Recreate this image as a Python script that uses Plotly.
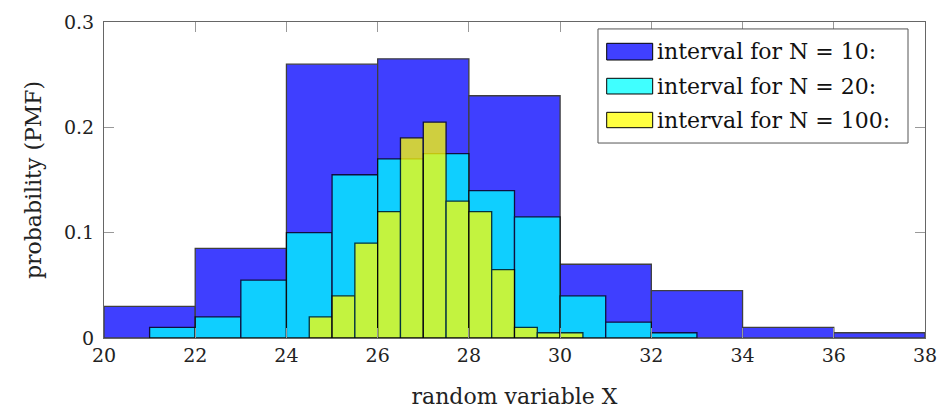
import plotly.graph_objects as go

# N = 10 intervals (bin width 2)
edges_n10 = [20, 22, 24, 26, 28, 30, 32, 34, 36]
pmf_n10 = [0.03, 0.085, 0.26, 0.265, 0.23, 0.07, 0.045, 0.01, 0.005]
width_n10 = 2.0

# N = 20 intervals (bin width 1)
edges_n20 = [21, 22, 23, 24, 25, 26, 27, 28, 29, 30, 31, 32]
pmf_n20 = [0.01, 0.02, 0.055, 0.10, 0.155, 0.17, 0.175, 0.14, 0.115, 0.04, 0.015, 0.005]
width_n20 = 1.0

# N = 100 intervals (bin width 0.5)
edges_n100 = [24.5, 25, 25.5, 26, 26.5, 27, 27.5, 28, 28.5, 29, 29.5, 30]
pmf_n100 = [0.02, 0.04, 0.09, 0.12, 0.19, 0.205, 0.13, 0.12, 0.065, 0.01, 0.005, 0.005]
width_n100 = 0.5

series_names = ["interval for N = 10:", "interval for N = 20:", "interval for N = 100:"]
series_colors = ["rgb(0,0,255)", "rgb(0,255,255)", "rgb(255,255,0)"]
x_ticks = [20, 22, 24, 26, 28, 30, 32, 34, 36, 38]
y_ticks = [0, 0.1, 0.2, 0.3]
y_tick_labels = ["0", "0.1", "0.2", "0.3"]

FONT = "DejaVu Serif"
ALPHA = 0.75

fig = go.Figure()

def add_hist(edges, vals, w, color, name):
    fig.add_trace(go.Bar(
        x=[e + w / 2 for e in edges], y=vals, width=[w] * len(edges),
        marker=dict(color=color, line=dict(color="black", width=1.3)),
        opacity=ALPHA, name=name, showlegend=False,
    ))

add_hist(edges_n10, pmf_n10, width_n10, series_colors[0], series_names[0])
add_hist(edges_n20, pmf_n20, width_n20, series_colors[1], series_names[1])
add_hist(edges_n100, pmf_n100, width_n100, series_colors[2], series_names[2])

axis_common = dict(
    showgrid=False, zeroline=False, showline=True, linecolor="#666666", linewidth=1.2,
    mirror="ticks", ticks="inside", ticklen=10, tickcolor="#999999", tickwidth=1.2,
    tickfont=dict(family=FONT, size=19, color="#222222"), automargin=False,
)

# Legend drawn as a framed box with wide swatches (paper coordinates)
shapes = [dict(type="rect", xref="paper", yref="paper", x0=0.6017, x1=0.9793, y0=0.617, y1=0.978,
               line=dict(color="#555555", width=1), fillcolor="white", layer="above")]
annotations = []
row_y = [(0.9326, 0.8797), (0.8218, 0.7722), (0.7142, 0.6655)]
for (yt, yb), col, name in zip(row_y, series_colors, series_names):
    shapes.append(dict(type="rect", xref="paper", yref="paper", x0=0.6123, x1=0.6683, y0=yb, y1=yt,
                       line=dict(width=0), fillcolor=col, opacity=ALPHA, layer="above"))
    shapes.append(dict(type="rect", xref="paper", yref="paper", x0=0.6123, x1=0.6683, y0=yb, y1=yt,
                       line=dict(color="black", width=1), fillcolor="rgba(0,0,0,0)", layer="above"))
    annotations.append(dict(xref="paper", yref="paper", x=0.671, y=(yt + yb) / 2, xanchor="left",
                            yanchor="middle", text=name, showarrow=False,
                            font=dict(family=FONT, size=22, color="#111111")))

fig.update_layout(
    width=940, height=412,
    barmode="overlay",
    paper_bgcolor="white", plot_bgcolor="white",
    margin=dict(l=104, r=15, t=22, b=74),
    font=dict(family=FONT, size=20, color="#222222"),
    xaxis=dict(range=[20, 38], tickvals=x_ticks,
               title=dict(text="random variable X", font=dict(family=FONT, size=22), standoff=23), **axis_common),
    yaxis=dict(range=[0, 0.3], tickvals=y_ticks, ticktext=y_tick_labels, ticklabelstandoff=5,
               title=dict(text="probability (PMF)", font=dict(family=FONT, size=22), standoff=16), **axis_common),
    shapes=shapes, annotations=annotations,
    showlegend=False,
)

fig.write_html("out.html", config={"displayModeBar": False},
               post_script="document.body.style.margin='0px';document.body.style.overflow='hidden';")
